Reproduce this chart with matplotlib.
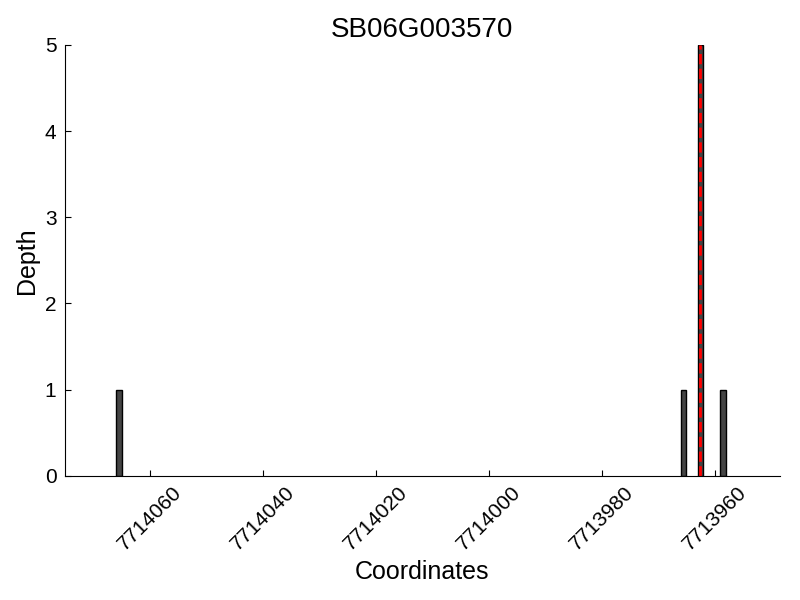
import matplotlib
matplotlib.use('Agg')
import matplotlib.pyplot as plt

# read depth data
gene = 'SB06G003570'
positions = [7714065, 7713965, 7713962, 7713958]
depths = [1, 1, 5, 1]
snp_pos = 7713962.5
xticks = [7714060, 7714040, 7714020, 7714000, 7713980, 7713960]

plt.rcParams['font.family'] = ['Liberation Sans', 'DejaVu Sans']

fig = plt.figure(figsize=(8, 6), dpi=100)
ax = fig.add_axes([0.081, 0.207, 0.894, 0.718])

ax.bar(positions, depths, width=1, align='edge', color='#444444',
       edgecolor='black', linewidth=1)
ax.plot([snp_pos, snp_pos], [0, max(depths)], color='red', linestyle='--',
        linewidth=2)

ax.set_xlim(7714075.1, 7713948.4)
ax.set_ylim(0, 5)
ax.set_xticks(xticks)
ax.set_xticklabels([str(t) for t in xticks], rotation=45, fontsize=15)
ax.set_yticks(range(6))
ax.tick_params(axis='y', labelsize=15, pad=6)
ax.tick_params(axis='x', pad=5)
ax.tick_params(direction='in', top=False, right=False, length=4.5)
ax.spines['top'].set_visible(False)
ax.spines['right'].set_visible(False)

ax.set_title(gene, fontsize=20)
ax.set_xlabel('Coordinates', fontsize=18)
ax.set_ylabel('Depth', fontsize=18)

fig.savefig('out.png', dpi=100)
